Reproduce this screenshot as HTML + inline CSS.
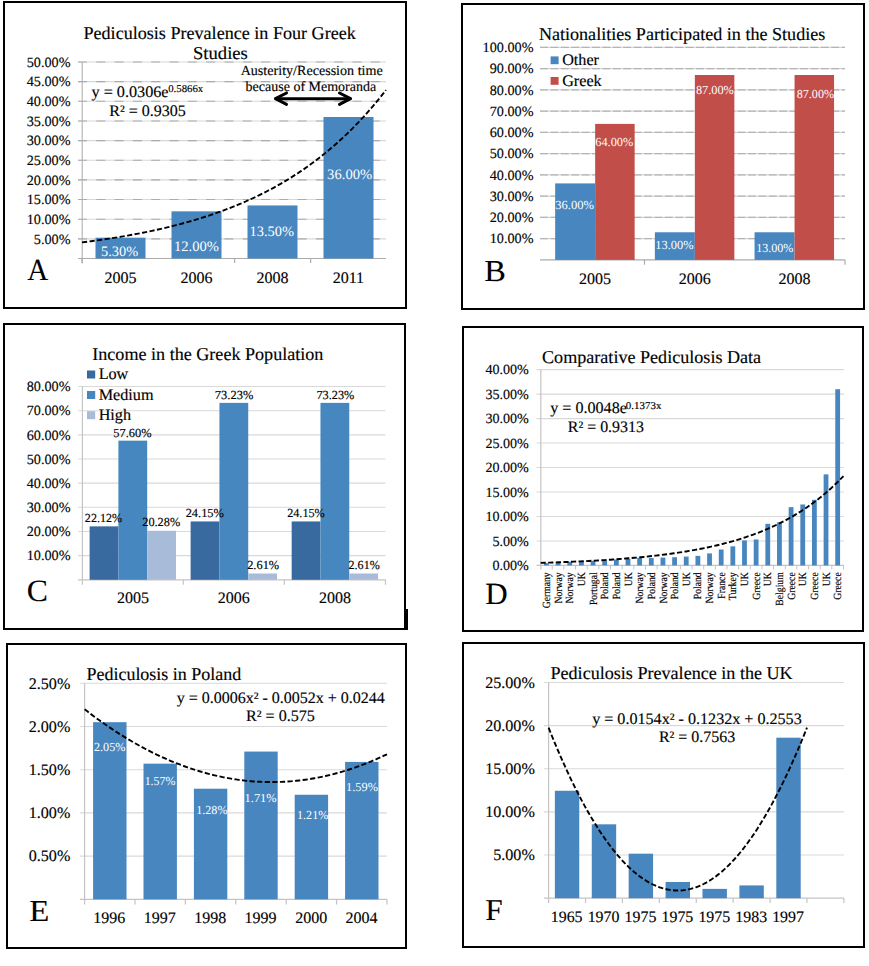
<!DOCTYPE html>
<html><head><meta charset="utf-8"><title>Pediculosis charts</title>
<style>
html,body{margin:0;padding:0;background:#fff;}
svg{display:block;}
text{font-family:"Liberation Serif", "Times New Roman", serif;text-rendering:geometricPrecision;}
</style></head>
<body>
<svg width="869" height="966" viewBox="0 0 869 966">
<rect width="869" height="966" fill="#fff"/>
<rect x="4.00" y="2.00" width="402.00" height="306.00" fill="none" stroke="#000" stroke-width="2"/>
<line x1="78.00" y1="238.85" x2="386.00" y2="238.85" stroke="#d8d8d8" stroke-width="1.1" />
<line x1="78.00" y1="238.85" x2="386.00" y2="238.85" stroke="#acacac" stroke-width="1.1" stroke-dasharray="9 9.3"/>
<text x="33.81" y="243.55" font-size="14.2" fill="#000" stroke="#000" stroke-width="0.15" >5.00%</text>
<line x1="78.00" y1="219.20" x2="386.00" y2="219.20" stroke="#d8d8d8" stroke-width="1.1" />
<line x1="78.00" y1="219.20" x2="386.00" y2="219.20" stroke="#acacac" stroke-width="1.1" stroke-dasharray="9 9.3"/>
<text x="26.71" y="223.90" font-size="14.2" fill="#000" stroke="#000" stroke-width="0.15" >10.00%</text>
<line x1="78.00" y1="199.55" x2="386.00" y2="199.55" stroke="#d8d8d8" stroke-width="1.1" />
<line x1="78.00" y1="199.55" x2="386.00" y2="199.55" stroke="#acacac" stroke-width="1.1" stroke-dasharray="9 9.3"/>
<text x="26.71" y="204.25" font-size="14.2" fill="#000" stroke="#000" stroke-width="0.15" >15.00%</text>
<line x1="78.00" y1="179.90" x2="386.00" y2="179.90" stroke="#d8d8d8" stroke-width="1.1" />
<line x1="78.00" y1="179.90" x2="386.00" y2="179.90" stroke="#acacac" stroke-width="1.1" stroke-dasharray="9 9.3"/>
<text x="26.71" y="184.60" font-size="14.2" fill="#000" stroke="#000" stroke-width="0.15" >20.00%</text>
<line x1="78.00" y1="160.25" x2="386.00" y2="160.25" stroke="#d8d8d8" stroke-width="1.1" />
<line x1="78.00" y1="160.25" x2="386.00" y2="160.25" stroke="#acacac" stroke-width="1.1" stroke-dasharray="9 9.3"/>
<text x="26.71" y="164.95" font-size="14.2" fill="#000" stroke="#000" stroke-width="0.15" >25.00%</text>
<line x1="78.00" y1="140.60" x2="386.00" y2="140.60" stroke="#d8d8d8" stroke-width="1.1" />
<line x1="78.00" y1="140.60" x2="386.00" y2="140.60" stroke="#acacac" stroke-width="1.1" stroke-dasharray="9 9.3"/>
<text x="26.71" y="145.30" font-size="14.2" fill="#000" stroke="#000" stroke-width="0.15" >30.00%</text>
<line x1="78.00" y1="120.95" x2="386.00" y2="120.95" stroke="#d8d8d8" stroke-width="1.1" />
<line x1="78.00" y1="120.95" x2="386.00" y2="120.95" stroke="#acacac" stroke-width="1.1" stroke-dasharray="9 9.3"/>
<text x="26.71" y="125.65" font-size="14.2" fill="#000" stroke="#000" stroke-width="0.15" >35.00%</text>
<line x1="78.00" y1="101.30" x2="386.00" y2="101.30" stroke="#d8d8d8" stroke-width="1.1" />
<line x1="78.00" y1="101.30" x2="386.00" y2="101.30" stroke="#acacac" stroke-width="1.1" stroke-dasharray="9 9.3"/>
<text x="26.71" y="106.00" font-size="14.2" fill="#000" stroke="#000" stroke-width="0.15" >40.00%</text>
<line x1="78.00" y1="81.65" x2="386.00" y2="81.65" stroke="#d8d8d8" stroke-width="1.1" />
<line x1="78.00" y1="81.65" x2="386.00" y2="81.65" stroke="#acacac" stroke-width="1.1" stroke-dasharray="9 9.3"/>
<text x="26.71" y="86.35" font-size="14.2" fill="#000" stroke="#000" stroke-width="0.15" >45.00%</text>
<line x1="78.00" y1="62.00" x2="386.00" y2="62.00" stroke="#d8d8d8" stroke-width="1.1" />
<line x1="78.00" y1="62.00" x2="386.00" y2="62.00" stroke="#acacac" stroke-width="1.1" stroke-dasharray="9 9.3"/>
<text x="26.71" y="66.70" font-size="14.2" fill="#000" stroke="#000" stroke-width="0.15" >50.00%</text>
<line x1="82.20" y1="62.00" x2="82.20" y2="263.50" stroke="#b0b0b0" stroke-width="1.1" />
<line x1="78.00" y1="258.50" x2="386.00" y2="258.50" stroke="#ababab" stroke-width="1.2" />
<line x1="82.00" y1="258.50" x2="82.00" y2="263.00" stroke="#ababab" stroke-width="1.2" />
<line x1="234.60" y1="258.50" x2="234.60" y2="263.00" stroke="#ababab" stroke-width="1.2" />
<line x1="310.60" y1="258.50" x2="310.60" y2="263.00" stroke="#ababab" stroke-width="1.2" />
<rect x="95.50" y="237.67" width="50.00" height="20.83" fill="#4886bf"/>
<rect x="171.50" y="211.34" width="50.00" height="47.16" fill="#4886bf"/>
<rect x="247.50" y="205.44" width="50.00" height="53.06" fill="#4886bf"/>
<rect x="323.50" y="117.02" width="50.00" height="141.48" fill="#4886bf"/>
<text x="100.96" y="256.20" font-size="14.4" fill="#fff" stroke="#fff" stroke-width="0" >5.30%</text>
<text x="173.92" y="251.00" font-size="14.4" textLength="44.98" lengthAdjust="spacingAndGlyphs" fill="#fff" stroke="#fff" stroke-width="0" >12.00%</text>
<text x="249.54" y="236.40" font-size="14.4" fill="#fff" stroke="#fff" stroke-width="0" >13.50%</text>
<text x="327.10" y="179.40" font-size="14.4" textLength="45.10" lengthAdjust="spacingAndGlyphs" fill="#fff" stroke="#fff" stroke-width="0" >36.00%</text>
<text x="104.46" y="283.00" font-size="16" fill="#000" stroke="#000" stroke-width="0.15" >2005</text>
<text x="180.39" y="283.00" font-size="16" fill="#000" stroke="#000" stroke-width="0.15" >2006</text>
<text x="256.45" y="283.00" font-size="16" fill="#000" stroke="#000" stroke-width="0.15" >2008</text>
<text x="332.63" y="283.00" font-size="16" fill="#000" stroke="#000" stroke-width="0.15" >2011</text>
<text x="27.32" y="279.90" font-size="30.5" textLength="21.00" lengthAdjust="spacingAndGlyphs" fill="#000" stroke="#000" stroke-width="0.1" >A</text>
<text x="83.48" y="39.00" font-size="18.1" fill="#000" stroke="#000" stroke-width="0.15" >Pediculosis Prevalence in Four Greek</text>
<text x="192.95" y="58.90" font-size="18.1" textLength="54.92" lengthAdjust="spacingAndGlyphs" fill="#000" stroke="#000" stroke-width="0.15" >Studies</text>
<text x="91.50" y="96.80" font-size="16" textLength="77.06" lengthAdjust="spacingAndGlyphs" fill="#000" stroke="#000" stroke-width="0.15" >y = 0.0306e</text>
<text x="168.19" y="92.20" font-size="10.5" textLength="35.04" lengthAdjust="spacingAndGlyphs" fill="#000" stroke="#000" stroke-width="0.15" >0.5866x</text>
<text x="109.24" y="115.80" font-size="16" fill="#000" stroke="#000" stroke-width="0.15" >R² = 0.9305</text>
<text x="240.66" y="74.70" font-size="14" textLength="142.03" lengthAdjust="spacingAndGlyphs" fill="#000" stroke="#000" stroke-width="0.15" >Austerity/Recession time</text>
<text x="245.60" y="90.70" font-size="14" fill="#000" stroke="#000" stroke-width="0.15" >because of Memoranda</text>
<g stroke="#000" stroke-width="3" fill="none" stroke-linecap="round" stroke-linejoin="round"><line x1="276" y1="98.7" x2="350" y2="98.7"/><polyline points="286.5,93 275.5,98.7 286.5,104.4"/><polyline points="339.5,93 350.5,98.7 339.5,104.4"/></g>
<path d="M82.00,242.38 L85.04,241.99 L88.08,241.60 L91.12,241.20 L94.16,240.79 L97.20,240.37 L100.24,239.94 L103.28,239.50 L106.32,239.05 L109.36,238.58 L112.40,238.11 L115.44,237.63 L118.48,237.13 L121.52,236.62 L124.56,236.10 L127.60,235.57 L130.64,235.03 L133.68,234.47 L136.72,233.90 L139.76,233.32 L142.80,232.72 L145.84,232.11 L148.88,231.48 L151.92,230.84 L154.96,230.18 L158.00,229.51 L161.04,228.82 L164.08,228.12 L167.12,227.40 L170.16,226.66 L173.20,225.90 L176.24,225.13 L179.28,224.33 L182.32,223.52 L185.36,222.69 L188.40,221.84 L191.44,220.97 L194.48,220.08 L197.52,219.17 L200.56,218.24 L203.60,217.28 L206.64,216.30 L209.68,215.30 L212.72,214.27 L215.76,213.22 L218.80,212.15 L221.84,211.05 L224.88,209.92 L227.92,208.77 L230.96,207.59 L234.00,206.38 L237.04,205.14 L240.08,203.88 L243.12,202.58 L246.16,201.25 L249.20,199.89 L252.24,198.50 L255.28,197.08 L258.32,195.62 L261.36,194.12 L264.40,192.60 L267.44,191.03 L270.48,189.43 L273.52,187.79 L276.56,186.11 L279.60,184.39 L282.64,182.63 L285.68,180.83 L288.72,178.99 L291.76,177.10 L294.80,175.17 L297.84,173.19 L300.88,171.16 L303.92,169.09 L306.96,166.97 L310.00,164.79 L313.04,162.57 L316.08,160.29 L319.12,157.96 L322.16,155.57 L325.20,153.13 L328.24,150.63 L331.28,148.07 L334.32,145.45 L337.36,142.76 L340.40,140.01 L343.44,137.20 L346.48,134.32 L349.52,131.37 L352.56,128.35 L355.60,125.27 L358.64,122.10 L361.68,118.86 L364.72,115.55 L367.76,112.15 L370.80,108.68 L373.84,105.12 L376.88,101.48 L379.92,97.75 L382.96,93.94 L386.00,90.03" fill="none" stroke="#000" stroke-width="1.9" stroke-dasharray="5.2 2.4"/>
<rect x="462.00" y="4.00" width="402.00" height="305.00" fill="none" stroke="#000" stroke-width="2"/>
<line x1="540.00" y1="238.65" x2="845.00" y2="238.65" stroke="#dadada" stroke-width="1.1" />
<line x1="540.00" y1="238.65" x2="845.00" y2="238.65" stroke="#b4b4b4" stroke-width="1.1" stroke-dasharray="8 2.4"/>
<text x="489.71" y="243.35" font-size="14.2" fill="#000" stroke="#000" stroke-width="0.15" >10.00%</text>
<line x1="540.00" y1="217.40" x2="845.00" y2="217.40" stroke="#dadada" stroke-width="1.1" />
<line x1="540.00" y1="217.40" x2="845.00" y2="217.40" stroke="#b4b4b4" stroke-width="1.1" stroke-dasharray="8 2.4"/>
<text x="489.71" y="222.10" font-size="14.2" fill="#000" stroke="#000" stroke-width="0.15" >20.00%</text>
<line x1="540.00" y1="196.15" x2="845.00" y2="196.15" stroke="#dadada" stroke-width="1.1" />
<line x1="540.00" y1="196.15" x2="845.00" y2="196.15" stroke="#b4b4b4" stroke-width="1.1" stroke-dasharray="8 2.4"/>
<text x="489.71" y="200.85" font-size="14.2" fill="#000" stroke="#000" stroke-width="0.15" >30.00%</text>
<line x1="540.00" y1="174.90" x2="845.00" y2="174.90" stroke="#dadada" stroke-width="1.1" />
<line x1="540.00" y1="174.90" x2="845.00" y2="174.90" stroke="#b4b4b4" stroke-width="1.1" stroke-dasharray="8 2.4"/>
<text x="489.71" y="179.60" font-size="14.2" fill="#000" stroke="#000" stroke-width="0.15" >40.00%</text>
<line x1="540.00" y1="153.65" x2="845.00" y2="153.65" stroke="#dadada" stroke-width="1.1" />
<line x1="540.00" y1="153.65" x2="845.00" y2="153.65" stroke="#b4b4b4" stroke-width="1.1" stroke-dasharray="8 2.4"/>
<text x="489.71" y="158.35" font-size="14.2" fill="#000" stroke="#000" stroke-width="0.15" >50.00%</text>
<line x1="540.00" y1="132.40" x2="845.00" y2="132.40" stroke="#dadada" stroke-width="1.1" />
<line x1="540.00" y1="132.40" x2="845.00" y2="132.40" stroke="#b4b4b4" stroke-width="1.1" stroke-dasharray="8 2.4"/>
<text x="489.71" y="137.10" font-size="14.2" fill="#000" stroke="#000" stroke-width="0.15" >60.00%</text>
<line x1="540.00" y1="111.15" x2="845.00" y2="111.15" stroke="#dadada" stroke-width="1.1" />
<line x1="540.00" y1="111.15" x2="845.00" y2="111.15" stroke="#b4b4b4" stroke-width="1.1" stroke-dasharray="8 2.4"/>
<text x="489.71" y="115.85" font-size="14.2" fill="#000" stroke="#000" stroke-width="0.15" >70.00%</text>
<line x1="540.00" y1="89.90" x2="845.00" y2="89.90" stroke="#dadada" stroke-width="1.1" />
<line x1="540.00" y1="89.90" x2="845.00" y2="89.90" stroke="#b4b4b4" stroke-width="1.1" stroke-dasharray="8 2.4"/>
<text x="489.71" y="94.60" font-size="14.2" fill="#000" stroke="#000" stroke-width="0.15" >80.00%</text>
<line x1="540.00" y1="68.65" x2="845.00" y2="68.65" stroke="#dadada" stroke-width="1.1" />
<line x1="540.00" y1="68.65" x2="845.00" y2="68.65" stroke="#b4b4b4" stroke-width="1.1" stroke-dasharray="8 2.4"/>
<text x="489.71" y="73.35" font-size="14.2" fill="#000" stroke="#000" stroke-width="0.15" >90.00%</text>
<line x1="540.00" y1="47.40" x2="845.00" y2="47.40" stroke="#dadada" stroke-width="1.1" />
<line x1="540.00" y1="47.40" x2="845.00" y2="47.40" stroke="#b4b4b4" stroke-width="1.1" stroke-dasharray="8 2.4"/>
<text x="482.61" y="52.10" font-size="14.2" fill="#000" stroke="#000" stroke-width="0.15" >100.00%</text>
<line x1="540.00" y1="259.90" x2="845.00" y2="259.90" stroke="#ababab" stroke-width="1.2" />
<line x1="644.50" y1="259.90" x2="644.50" y2="264.70" stroke="#ababab" stroke-width="1.2" />
<line x1="845.00" y1="259.90" x2="845.00" y2="264.70" stroke="#ababab" stroke-width="1.2" />
<rect x="555.15" y="183.40" width="40.00" height="76.50" fill="#4886bf"/>
<rect x="595.15" y="123.90" width="39.50" height="136.00" fill="#c24e4a"/>
<rect x="654.85" y="232.27" width="40.00" height="27.62" fill="#4886bf"/>
<rect x="694.85" y="75.02" width="39.50" height="184.88" fill="#c24e4a"/>
<rect x="754.55" y="232.27" width="40.00" height="27.62" fill="#4886bf"/>
<rect x="794.55" y="75.02" width="39.50" height="184.88" fill="#c24e4a"/>
<text x="555.30" y="209.20" font-size="12.3" textLength="38.73" lengthAdjust="spacingAndGlyphs" fill="#fff" stroke="#fff" stroke-width="0" >36.00%</text>
<text x="595.27" y="146.00" font-size="12.3" fill="#fff" stroke="#fff" stroke-width="0" >64.00%</text>
<text x="655.31" y="249.00" font-size="12.3" textLength="38.32" lengthAdjust="spacingAndGlyphs" fill="#fff" stroke="#fff" stroke-width="0" >13.00%</text>
<text x="695.93" y="94.10" font-size="12.3" fill="#fff" stroke="#fff" stroke-width="0" >87.00%</text>
<text x="756.14" y="252.10" font-size="12.3" textLength="37.28" lengthAdjust="spacingAndGlyphs" fill="#fff" stroke="#fff" stroke-width="0" >13.00%</text>
<text x="796.74" y="97.70" font-size="12.3" textLength="37.27" lengthAdjust="spacingAndGlyphs" fill="#fff" stroke="#fff" stroke-width="0" >87.00%</text>
<text x="579.11" y="283.80" font-size="16" fill="#000" stroke="#000" stroke-width="0.15" >2005</text>
<text x="678.74" y="283.80" font-size="16" fill="#000" stroke="#000" stroke-width="0.15" >2006</text>
<text x="778.50" y="283.80" font-size="16" fill="#000" stroke="#000" stroke-width="0.15" >2008</text>
<text x="484.17" y="280.80" font-size="30.5" textLength="21.62" lengthAdjust="spacingAndGlyphs" fill="#000" stroke="#000" stroke-width="0.1" >B</text>
<text x="538.88" y="40.10" font-size="18.1" fill="#000" stroke="#000" stroke-width="0.15" >Nationalities Participated in the Studies</text>
<rect x="550.60" y="56.40" width="8.00" height="7.80" fill="#4886bf"/>
<rect x="550.60" y="77.00" width="8.00" height="7.80" fill="#c24e4a"/>
<text x="562.14" y="64.90" font-size="16.2" fill="#000" stroke="#000" stroke-width="0.15" >Other</text>
<text x="562.14" y="85.50" font-size="16.2" fill="#000" stroke="#000" stroke-width="0.15" >Greek</text>
<rect x="4.00" y="324.00" width="401.00" height="305.00" fill="none" stroke="#000" stroke-width="2"/>
<rect x="406.00" y="609.00" width="2.00" height="21.00" fill="#000"/>
<line x1="78.00" y1="555.64" x2="385.50" y2="555.64" stroke="#d9d9d9" stroke-width="1.1" />
<text x="26.71" y="560.34" font-size="14.2" fill="#000" stroke="#000" stroke-width="0.15" >10.00%</text>
<line x1="78.00" y1="531.48" x2="385.50" y2="531.48" stroke="#d9d9d9" stroke-width="1.1" />
<text x="26.71" y="536.18" font-size="14.2" fill="#000" stroke="#000" stroke-width="0.15" >20.00%</text>
<line x1="78.00" y1="507.32" x2="385.50" y2="507.32" stroke="#d9d9d9" stroke-width="1.1" />
<text x="26.71" y="512.02" font-size="14.2" fill="#000" stroke="#000" stroke-width="0.15" >30.00%</text>
<line x1="78.00" y1="483.16" x2="385.50" y2="483.16" stroke="#d9d9d9" stroke-width="1.1" />
<text x="26.71" y="487.86" font-size="14.2" fill="#000" stroke="#000" stroke-width="0.15" >40.00%</text>
<line x1="78.00" y1="459.00" x2="385.50" y2="459.00" stroke="#d9d9d9" stroke-width="1.1" />
<text x="26.71" y="463.70" font-size="14.2" fill="#000" stroke="#000" stroke-width="0.15" >50.00%</text>
<line x1="78.00" y1="434.84" x2="385.50" y2="434.84" stroke="#d9d9d9" stroke-width="1.1" />
<text x="26.71" y="439.54" font-size="14.2" fill="#000" stroke="#000" stroke-width="0.15" >60.00%</text>
<line x1="78.00" y1="410.68" x2="385.50" y2="410.68" stroke="#d9d9d9" stroke-width="1.1" />
<text x="26.71" y="415.38" font-size="14.2" fill="#000" stroke="#000" stroke-width="0.15" >70.00%</text>
<line x1="78.00" y1="386.52" x2="385.50" y2="386.52" stroke="#d9d9d9" stroke-width="1.1" />
<text x="26.71" y="391.22" font-size="14.2" fill="#000" stroke="#000" stroke-width="0.15" >80.00%</text>
<line x1="82.40" y1="386.52" x2="82.40" y2="579.80" stroke="#c4c4c4" stroke-width="1.2" />
<line x1="78.00" y1="579.80" x2="385.50" y2="579.80" stroke="#c4c4c4" stroke-width="1.2" />
<line x1="82.40" y1="579.80" x2="82.40" y2="584.80" stroke="#c4c4c4" stroke-width="1.2" />
<line x1="183.30" y1="579.80" x2="183.30" y2="584.80" stroke="#c4c4c4" stroke-width="1.2" />
<line x1="284.40" y1="579.80" x2="284.40" y2="584.80" stroke="#c4c4c4" stroke-width="1.2" />
<line x1="385.50" y1="579.80" x2="385.50" y2="584.80" stroke="#c4c4c4" stroke-width="1.2" />
<rect x="89.60" y="526.36" width="28.80" height="53.44" fill="#386aa0"/>
<rect x="118.40" y="440.64" width="28.80" height="139.16" fill="#4687c0"/>
<rect x="147.20" y="530.80" width="28.80" height="49.00" fill="#a8bcda"/>
<rect x="190.63" y="521.45" width="28.80" height="58.35" fill="#386aa0"/>
<rect x="219.43" y="402.88" width="28.80" height="176.92" fill="#4687c0"/>
<rect x="248.23" y="573.49" width="28.80" height="6.31" fill="#a8bcda"/>
<rect x="291.66" y="521.45" width="28.80" height="58.35" fill="#386aa0"/>
<rect x="320.46" y="402.88" width="28.80" height="176.92" fill="#4687c0"/>
<rect x="349.26" y="573.49" width="28.80" height="6.31" fill="#a8bcda"/>
<text x="84.87" y="522.40" font-size="12.3" textLength="37.14" lengthAdjust="spacingAndGlyphs" fill="#000" stroke="#000" stroke-width="0.15" >22.12%</text>
<text x="113.38" y="436.60" font-size="12.3" textLength="38.14" lengthAdjust="spacingAndGlyphs" fill="#000" stroke="#000" stroke-width="0.15" >57.60%</text>
<text x="142.26" y="526.20" font-size="12.3" fill="#000" stroke="#000" stroke-width="0.15" >20.28%</text>
<text x="185.65" y="516.80" font-size="12.3" textLength="38.27" lengthAdjust="spacingAndGlyphs" fill="#000" stroke="#000" stroke-width="0.15" >24.15%</text>
<text x="214.88" y="398.90" font-size="12.3" textLength="38.45" lengthAdjust="spacingAndGlyphs" fill="#000" stroke="#000" stroke-width="0.15" >73.23%</text>
<text x="247.16" y="568.60" font-size="12.3" textLength="31.97" lengthAdjust="spacingAndGlyphs" fill="#000" stroke="#000" stroke-width="0.15" >2.61%</text>
<text x="287.16" y="516.80" font-size="12.3" textLength="37.55" lengthAdjust="spacingAndGlyphs" fill="#000" stroke="#000" stroke-width="0.15" >24.15%</text>
<text x="316.39" y="398.90" font-size="12.3" fill="#000" stroke="#000" stroke-width="0.15" >73.23%</text>
<text x="348.57" y="568.60" font-size="12.3" textLength="31.14" lengthAdjust="spacingAndGlyphs" fill="#000" stroke="#000" stroke-width="0.15" >2.61%</text>
<text x="116.88" y="602.80" font-size="16" fill="#000" stroke="#000" stroke-width="0.15" >2005</text>
<text x="217.83" y="602.80" font-size="16" fill="#000" stroke="#000" stroke-width="0.15" >2006</text>
<text x="318.93" y="602.80" font-size="16" fill="#000" stroke="#000" stroke-width="0.15" >2008</text>
<text x="26.80" y="601.40" font-size="31" textLength="21.15" lengthAdjust="spacingAndGlyphs" fill="#000" stroke="#000" stroke-width="0.1" >C</text>
<text x="92.25" y="360.30" font-size="18.1" fill="#000" stroke="#000" stroke-width="0.15" >Income in the Greek Population</text>
<rect x="87.00" y="370.50" width="8.20" height="8.00" fill="#386aa0"/>
<rect x="87.00" y="391.00" width="8.20" height="8.00" fill="#4687c0"/>
<rect x="87.00" y="411.20" width="8.20" height="8.00" fill="#a8bcda"/>
<text x="98.63" y="379.40" font-size="16.2" fill="#000" stroke="#000" stroke-width="0.15" >Low</text>
<text x="98.63" y="399.90" font-size="16.2" fill="#000" stroke="#000" stroke-width="0.15" >Medium</text>
<text x="98.63" y="419.90" font-size="16.2" fill="#000" stroke="#000" stroke-width="0.15" >High</text>
<rect x="463.00" y="327.00" width="400.00" height="304.00" fill="none" stroke="#000" stroke-width="2"/>
<text x="492.46" y="570.00" font-size="14.1" fill="#000" stroke="#000" stroke-width="0.15" >0.00%</text>
<line x1="536.50" y1="540.93" x2="844.00" y2="540.93" stroke="#d9d9d9" stroke-width="1.1" />
<text x="492.46" y="545.53" font-size="14.1" fill="#000" stroke="#000" stroke-width="0.15" >5.00%</text>
<line x1="536.50" y1="516.46" x2="844.00" y2="516.46" stroke="#d9d9d9" stroke-width="1.1" />
<text x="485.41" y="521.06" font-size="14.1" fill="#000" stroke="#000" stroke-width="0.15" >10.00%</text>
<line x1="536.50" y1="491.99" x2="844.00" y2="491.99" stroke="#d9d9d9" stroke-width="1.1" />
<text x="485.41" y="496.59" font-size="14.1" fill="#000" stroke="#000" stroke-width="0.15" >15.00%</text>
<line x1="536.50" y1="467.52" x2="844.00" y2="467.52" stroke="#d9d9d9" stroke-width="1.1" />
<text x="485.41" y="472.12" font-size="14.1" fill="#000" stroke="#000" stroke-width="0.15" >20.00%</text>
<line x1="536.50" y1="443.05" x2="844.00" y2="443.05" stroke="#d9d9d9" stroke-width="1.1" />
<text x="485.41" y="447.65" font-size="14.1" fill="#000" stroke="#000" stroke-width="0.15" >25.00%</text>
<line x1="536.50" y1="418.58" x2="844.00" y2="418.58" stroke="#d9d9d9" stroke-width="1.1" />
<text x="485.41" y="423.18" font-size="14.1" fill="#000" stroke="#000" stroke-width="0.15" >30.00%</text>
<line x1="536.50" y1="394.11" x2="844.00" y2="394.11" stroke="#d9d9d9" stroke-width="1.1" />
<text x="485.41" y="398.71" font-size="14.1" fill="#000" stroke="#000" stroke-width="0.15" >35.00%</text>
<line x1="536.50" y1="369.64" x2="844.00" y2="369.64" stroke="#d9d9d9" stroke-width="1.1" />
<text x="485.41" y="374.24" font-size="14.1" fill="#000" stroke="#000" stroke-width="0.15" >40.00%</text>
<line x1="540.80" y1="369.64" x2="540.80" y2="569.40" stroke="#c4c4c4" stroke-width="1.2" />
<line x1="536.50" y1="565.40" x2="844.00" y2="565.40" stroke="#c4c4c4" stroke-width="1.2" />
<rect x="544.03" y="563.20" width="4.80" height="2.20" fill="#4886bf"/>
<line x1="552.25" y1="565.40" x2="552.25" y2="569.40" stroke="#c4c4c4" stroke-width="1" />
<text transform="translate(550.03,572.30) rotate(-90)" text-anchor="end" font-size="11" textLength="36.02" lengthAdjust="spacingAndGlyphs" stroke="#000" stroke-width="0.15">Germany</text>
<rect x="555.68" y="562.71" width="4.80" height="2.69" fill="#4886bf"/>
<line x1="563.90" y1="565.40" x2="563.90" y2="569.40" stroke="#c4c4c4" stroke-width="1" />
<text transform="translate(561.68,572.30) rotate(-90)" text-anchor="end" font-size="11" textLength="31.18" lengthAdjust="spacingAndGlyphs" stroke="#000" stroke-width="0.15">Norway</text>
<rect x="567.33" y="561.73" width="4.80" height="3.67" fill="#4886bf"/>
<line x1="575.55" y1="565.40" x2="575.55" y2="569.40" stroke="#c4c4c4" stroke-width="1" />
<text transform="translate(573.33,572.30) rotate(-90)" text-anchor="end" font-size="11" textLength="31.18" lengthAdjust="spacingAndGlyphs" stroke="#000" stroke-width="0.15">Norway</text>
<rect x="578.98" y="561.00" width="4.80" height="4.40" fill="#4886bf"/>
<line x1="587.20" y1="565.40" x2="587.20" y2="569.40" stroke="#c4c4c4" stroke-width="1" />
<text transform="translate(584.98,572.30) rotate(-90)" text-anchor="end" font-size="11" textLength="13.98" lengthAdjust="spacingAndGlyphs" stroke="#000" stroke-width="0.15">UK</text>
<rect x="590.62" y="560.75" width="4.80" height="4.65" fill="#4886bf"/>
<line x1="598.85" y1="565.40" x2="598.85" y2="569.40" stroke="#c4c4c4" stroke-width="1" />
<text transform="translate(596.62,572.30) rotate(-90)" text-anchor="end" font-size="11" textLength="32.80" lengthAdjust="spacingAndGlyphs" stroke="#000" stroke-width="0.15">Portugal</text>
<rect x="602.28" y="560.26" width="4.80" height="5.14" fill="#4886bf"/>
<line x1="610.50" y1="565.40" x2="610.50" y2="569.40" stroke="#c4c4c4" stroke-width="1" />
<text transform="translate(608.28,572.30) rotate(-90)" text-anchor="end" font-size="11" textLength="26.89" lengthAdjust="spacingAndGlyphs" stroke="#000" stroke-width="0.15">Poland</text>
<rect x="613.93" y="559.53" width="4.80" height="5.87" fill="#4886bf"/>
<line x1="622.15" y1="565.40" x2="622.15" y2="569.40" stroke="#c4c4c4" stroke-width="1" />
<text transform="translate(619.93,572.30) rotate(-90)" text-anchor="end" font-size="11" textLength="26.89" lengthAdjust="spacingAndGlyphs" stroke="#000" stroke-width="0.15">Poland</text>
<rect x="625.58" y="558.79" width="4.80" height="6.61" fill="#4886bf"/>
<line x1="633.80" y1="565.40" x2="633.80" y2="569.40" stroke="#c4c4c4" stroke-width="1" />
<text transform="translate(631.58,572.30) rotate(-90)" text-anchor="end" font-size="11" textLength="13.98" lengthAdjust="spacingAndGlyphs" stroke="#000" stroke-width="0.15">UK</text>
<rect x="637.23" y="557.81" width="4.80" height="7.59" fill="#4886bf"/>
<line x1="645.45" y1="565.40" x2="645.45" y2="569.40" stroke="#c4c4c4" stroke-width="1" />
<text transform="translate(643.23,572.30) rotate(-90)" text-anchor="end" font-size="11" textLength="31.18" lengthAdjust="spacingAndGlyphs" stroke="#000" stroke-width="0.15">Norway</text>
<rect x="648.88" y="558.06" width="4.80" height="7.34" fill="#4886bf"/>
<line x1="657.10" y1="565.40" x2="657.10" y2="569.40" stroke="#c4c4c4" stroke-width="1" />
<text transform="translate(654.88,572.30) rotate(-90)" text-anchor="end" font-size="11" textLength="26.89" lengthAdjust="spacingAndGlyphs" stroke="#000" stroke-width="0.15">Poland</text>
<rect x="660.53" y="557.57" width="4.80" height="7.83" fill="#4886bf"/>
<line x1="668.75" y1="565.40" x2="668.75" y2="569.40" stroke="#c4c4c4" stroke-width="1" />
<text transform="translate(666.53,572.30) rotate(-90)" text-anchor="end" font-size="11" textLength="31.18" lengthAdjust="spacingAndGlyphs" stroke="#000" stroke-width="0.15">Norway</text>
<rect x="672.18" y="557.23" width="4.80" height="8.17" fill="#4886bf"/>
<line x1="680.40" y1="565.40" x2="680.40" y2="569.40" stroke="#c4c4c4" stroke-width="1" />
<text transform="translate(678.18,572.30) rotate(-90)" text-anchor="end" font-size="11" textLength="26.89" lengthAdjust="spacingAndGlyphs" stroke="#000" stroke-width="0.15">Poland</text>
<rect x="683.83" y="556.59" width="4.80" height="8.81" fill="#4886bf"/>
<line x1="692.05" y1="565.40" x2="692.05" y2="569.40" stroke="#c4c4c4" stroke-width="1" />
<text transform="translate(689.83,572.30) rotate(-90)" text-anchor="end" font-size="11" textLength="13.98" lengthAdjust="spacingAndGlyphs" stroke="#000" stroke-width="0.15">UK</text>
<rect x="695.48" y="555.86" width="4.80" height="9.54" fill="#4886bf"/>
<line x1="703.70" y1="565.40" x2="703.70" y2="569.40" stroke="#c4c4c4" stroke-width="1" />
<text transform="translate(701.48,572.30) rotate(-90)" text-anchor="end" font-size="11" textLength="26.89" lengthAdjust="spacingAndGlyphs" stroke="#000" stroke-width="0.15">Poland</text>
<rect x="707.13" y="553.41" width="4.80" height="11.99" fill="#4886bf"/>
<line x1="715.35" y1="565.40" x2="715.35" y2="569.40" stroke="#c4c4c4" stroke-width="1" />
<text transform="translate(713.13,572.30) rotate(-90)" text-anchor="end" font-size="11" textLength="31.18" lengthAdjust="spacingAndGlyphs" stroke="#000" stroke-width="0.15">Norway</text>
<rect x="718.78" y="549.49" width="4.80" height="15.91" fill="#4886bf"/>
<line x1="727.00" y1="565.40" x2="727.00" y2="569.40" stroke="#c4c4c4" stroke-width="1" />
<text transform="translate(724.78,572.30) rotate(-90)" text-anchor="end" font-size="11" textLength="26.34" lengthAdjust="spacingAndGlyphs" stroke="#000" stroke-width="0.15">France</text>
<rect x="730.43" y="546.31" width="4.80" height="19.09" fill="#4886bf"/>
<line x1="738.65" y1="565.40" x2="738.65" y2="569.40" stroke="#c4c4c4" stroke-width="1" />
<text transform="translate(736.43,572.30) rotate(-90)" text-anchor="end" font-size="11" textLength="27.95" lengthAdjust="spacingAndGlyphs" stroke="#000" stroke-width="0.15">Turkey</text>
<rect x="742.08" y="540.44" width="4.80" height="24.96" fill="#4886bf"/>
<line x1="750.30" y1="565.40" x2="750.30" y2="569.40" stroke="#c4c4c4" stroke-width="1" />
<text transform="translate(748.08,572.30) rotate(-90)" text-anchor="end" font-size="11" textLength="13.98" lengthAdjust="spacingAndGlyphs" stroke="#000" stroke-width="0.15">UK</text>
<rect x="753.73" y="539.46" width="4.80" height="25.94" fill="#4886bf"/>
<line x1="761.95" y1="565.40" x2="761.95" y2="569.40" stroke="#c4c4c4" stroke-width="1" />
<text transform="translate(759.73,572.30) rotate(-90)" text-anchor="end" font-size="11" textLength="27.40" lengthAdjust="spacingAndGlyphs" stroke="#000" stroke-width="0.15">Greece</text>
<rect x="765.38" y="523.80" width="4.80" height="41.60" fill="#4886bf"/>
<line x1="773.60" y1="565.40" x2="773.60" y2="569.40" stroke="#c4c4c4" stroke-width="1" />
<text transform="translate(771.38,572.30) rotate(-90)" text-anchor="end" font-size="11" textLength="13.98" lengthAdjust="spacingAndGlyphs" stroke="#000" stroke-width="0.15">UK</text>
<rect x="777.03" y="522.33" width="4.80" height="43.07" fill="#4886bf"/>
<line x1="785.25" y1="565.40" x2="785.25" y2="569.40" stroke="#c4c4c4" stroke-width="1" />
<text transform="translate(783.03,572.30) rotate(-90)" text-anchor="end" font-size="11" textLength="33.34" lengthAdjust="spacingAndGlyphs" stroke="#000" stroke-width="0.15">Belgium</text>
<rect x="788.68" y="507.16" width="4.80" height="58.24" fill="#4886bf"/>
<line x1="796.90" y1="565.40" x2="796.90" y2="569.40" stroke="#c4c4c4" stroke-width="1" />
<text transform="translate(794.68,572.30) rotate(-90)" text-anchor="end" font-size="11" textLength="27.40" lengthAdjust="spacingAndGlyphs" stroke="#000" stroke-width="0.15">Greece</text>
<rect x="800.33" y="504.47" width="4.80" height="60.93" fill="#4886bf"/>
<line x1="808.55" y1="565.40" x2="808.55" y2="569.40" stroke="#c4c4c4" stroke-width="1" />
<text transform="translate(806.33,572.30) rotate(-90)" text-anchor="end" font-size="11" textLength="13.98" lengthAdjust="spacingAndGlyphs" stroke="#000" stroke-width="0.15">UK</text>
<rect x="811.98" y="499.82" width="4.80" height="65.58" fill="#4886bf"/>
<line x1="820.20" y1="565.40" x2="820.20" y2="569.40" stroke="#c4c4c4" stroke-width="1" />
<text transform="translate(817.98,572.30) rotate(-90)" text-anchor="end" font-size="11" textLength="27.40" lengthAdjust="spacingAndGlyphs" stroke="#000" stroke-width="0.15">Greece</text>
<rect x="823.63" y="474.37" width="4.80" height="91.03" fill="#4886bf"/>
<line x1="831.85" y1="565.40" x2="831.85" y2="569.40" stroke="#c4c4c4" stroke-width="1" />
<text transform="translate(829.63,572.30) rotate(-90)" text-anchor="end" font-size="11" textLength="13.98" lengthAdjust="spacingAndGlyphs" stroke="#000" stroke-width="0.15">UK</text>
<rect x="835.27" y="389.22" width="4.80" height="176.18" fill="#4886bf"/>
<line x1="843.50" y1="565.40" x2="843.50" y2="569.40" stroke="#c4c4c4" stroke-width="1" />
<text transform="translate(841.27,572.30) rotate(-90)" text-anchor="end" font-size="11" textLength="27.40" lengthAdjust="spacingAndGlyphs" stroke="#000" stroke-width="0.15">Greece</text>
<text x="485.30" y="603.80" font-size="30.8" textLength="22.44" lengthAdjust="spacingAndGlyphs" fill="#000" stroke="#000" stroke-width="0.1" >D</text>
<text x="542.06" y="363.00" font-size="18.1" fill="#000" stroke="#000" stroke-width="0.15" >Comparative Pediculosis Data</text>
<text x="550.30" y="413.00" font-size="16" textLength="76.55" lengthAdjust="spacingAndGlyphs" fill="#000" stroke="#000" stroke-width="0.15" >y = 0.0048e</text>
<text x="625.88" y="408.60" font-size="10.5" textLength="35.55" lengthAdjust="spacingAndGlyphs" fill="#000" stroke="#000" stroke-width="0.15" >0.1373x</text>
<text x="567.84" y="431.50" font-size="16" textLength="76.08" lengthAdjust="spacingAndGlyphs" fill="#000" stroke="#000" stroke-width="0.15" >R² = 0.9313</text>
<path d="M540.60,562.88 L543.63,562.79 L546.66,562.70 L549.69,562.60 L552.72,562.50 L555.75,562.39 L558.77,562.28 L561.80,562.17 L564.83,562.05 L567.86,561.93 L570.89,561.80 L573.92,561.67 L576.95,561.54 L579.98,561.40 L583.01,561.25 L586.04,561.10 L589.06,560.95 L592.09,560.78 L595.12,560.62 L598.15,560.44 L601.18,560.26 L604.21,560.08 L607.24,559.88 L610.27,559.68 L613.30,559.47 L616.33,559.26 L619.35,559.03 L622.38,558.80 L625.41,558.56 L628.44,558.32 L631.47,558.06 L634.50,557.79 L637.53,557.51 L640.56,557.23 L643.59,556.93 L646.62,556.62 L649.64,556.30 L652.67,555.97 L655.70,555.63 L658.73,555.28 L661.76,554.91 L664.79,554.53 L667.82,554.13 L670.85,553.72 L673.88,553.30 L676.90,552.86 L679.93,552.40 L682.96,551.93 L685.99,551.44 L689.02,550.93 L692.05,550.41 L695.08,549.86 L698.11,549.30 L701.14,548.71 L704.17,548.11 L707.20,547.48 L710.22,546.83 L713.25,546.15 L716.28,545.45 L719.31,544.73 L722.34,543.97 L725.37,543.20 L728.40,542.39 L731.43,541.55 L734.46,540.69 L737.49,539.79 L740.51,538.86 L743.54,537.89 L746.57,536.89 L749.60,535.86 L752.63,534.78 L755.66,533.67 L758.69,532.52 L761.72,531.32 L764.75,530.08 L767.78,528.80 L770.80,527.47 L773.83,526.09 L776.86,524.66 L779.89,523.18 L782.92,521.65 L785.95,520.06 L788.98,518.41 L792.01,516.70 L795.04,514.93 L798.07,513.10 L801.09,511.20 L804.12,509.23 L807.15,507.19 L810.18,505.07 L813.21,502.88 L816.24,500.61 L819.27,498.25 L822.30,495.81 L825.33,493.28 L828.36,490.66 L831.38,487.94 L834.41,485.13 L837.44,482.21 L840.47,479.19 L843.50,476.06" fill="none" stroke="#000" stroke-width="1.9" stroke-dasharray="5.2 2.4"/>
<rect x="7.00" y="644.00" width="399.00" height="304.00" fill="none" stroke="#000" stroke-width="2"/>
<line x1="80.00" y1="856.10" x2="387.00" y2="856.10" stroke="#d9d9d9" stroke-width="1.1" />
<text x="28.76" y="861.40" font-size="16.1" fill="#000" stroke="#000" stroke-width="0.15" >0.50%</text>
<line x1="80.00" y1="812.90" x2="387.00" y2="812.90" stroke="#d9d9d9" stroke-width="1.1" />
<text x="28.76" y="818.20" font-size="16.1" fill="#000" stroke="#000" stroke-width="0.15" >1.00%</text>
<line x1="80.00" y1="769.70" x2="387.00" y2="769.70" stroke="#d9d9d9" stroke-width="1.1" />
<text x="28.76" y="775.00" font-size="16.1" fill="#000" stroke="#000" stroke-width="0.15" >1.50%</text>
<line x1="80.00" y1="726.50" x2="387.00" y2="726.50" stroke="#d9d9d9" stroke-width="1.1" />
<text x="28.76" y="731.80" font-size="16.1" fill="#000" stroke="#000" stroke-width="0.15" >2.00%</text>
<line x1="80.00" y1="683.30" x2="387.00" y2="683.30" stroke="#d9d9d9" stroke-width="1.1" />
<text x="28.76" y="688.60" font-size="16.1" fill="#000" stroke="#000" stroke-width="0.15" >2.50%</text>
<line x1="84.60" y1="683.30" x2="84.60" y2="899.30" stroke="#c4c4c4" stroke-width="1.2" />
<line x1="80.00" y1="899.30" x2="387.00" y2="899.30" stroke="#c4c4c4" stroke-width="1.2" />
<line x1="84.60" y1="899.30" x2="84.60" y2="904.50" stroke="#c4c4c4" stroke-width="1.2" />
<line x1="135.00" y1="899.30" x2="135.00" y2="904.50" stroke="#c4c4c4" stroke-width="1.2" />
<line x1="185.40" y1="899.30" x2="185.40" y2="904.50" stroke="#c4c4c4" stroke-width="1.2" />
<line x1="235.80" y1="899.30" x2="235.80" y2="904.50" stroke="#c4c4c4" stroke-width="1.2" />
<line x1="286.20" y1="899.30" x2="286.20" y2="904.50" stroke="#c4c4c4" stroke-width="1.2" />
<line x1="336.60" y1="899.30" x2="336.60" y2="904.50" stroke="#c4c4c4" stroke-width="1.2" />
<line x1="387.00" y1="899.30" x2="387.00" y2="904.50" stroke="#c4c4c4" stroke-width="1.2" />
<rect x="93.10" y="722.18" width="33.40" height="177.12" fill="#4886bf"/>
<rect x="143.50" y="763.65" width="33.40" height="135.65" fill="#4886bf"/>
<rect x="193.90" y="788.71" width="33.40" height="110.59" fill="#4886bf"/>
<rect x="244.30" y="751.56" width="33.40" height="147.74" fill="#4886bf"/>
<rect x="294.70" y="794.76" width="33.40" height="104.54" fill="#4886bf"/>
<rect x="345.10" y="761.92" width="33.40" height="137.38" fill="#4886bf"/>
<text x="93.96" y="751.10" font-size="12.3" textLength="31.45" lengthAdjust="spacingAndGlyphs" fill="#fff" stroke="#fff" stroke-width="0" >2.05%</text>
<text x="144.65" y="785.10" font-size="12.3" textLength="30.75" lengthAdjust="spacingAndGlyphs" fill="#fff" stroke="#fff" stroke-width="0" >1.57%</text>
<text x="196.24" y="813.60" font-size="12.3" textLength="31.28" lengthAdjust="spacingAndGlyphs" fill="#fff" stroke="#fff" stroke-width="0" >1.28%</text>
<text x="244.61" y="801.90" font-size="12.3" textLength="32.01" lengthAdjust="spacingAndGlyphs" fill="#fff" stroke="#fff" stroke-width="0" >1.71%</text>
<text x="297.04" y="819.30" font-size="12.3" textLength="31.28" lengthAdjust="spacingAndGlyphs" fill="#fff" stroke="#fff" stroke-width="0" >1.21%</text>
<text x="346.12" y="791.20" font-size="12.3" fill="#fff" stroke="#fff" stroke-width="0" >1.59%</text>
<text x="93.34" y="922.80" font-size="16" fill="#000" stroke="#000" stroke-width="0.15" >1996</text>
<text x="143.73" y="922.80" font-size="16" fill="#000" stroke="#000" stroke-width="0.15" >1997</text>
<text x="194.20" y="922.80" font-size="16" fill="#000" stroke="#000" stroke-width="0.15" >1998</text>
<text x="244.62" y="922.80" font-size="16" fill="#000" stroke="#000" stroke-width="0.15" >1999</text>
<text x="295.35" y="922.80" font-size="16" fill="#000" stroke="#000" stroke-width="0.15" >2000</text>
<text x="345.57" y="922.80" font-size="16" fill="#000" stroke="#000" stroke-width="0.15" >2004</text>
<text x="29.15" y="920.60" font-size="30.5" textLength="20.08" lengthAdjust="spacingAndGlyphs" fill="#000" stroke="#000" stroke-width="0.1" >E</text>
<text x="86.48" y="679.70" font-size="18.1" textLength="154.74" lengthAdjust="spacingAndGlyphs" fill="#000" stroke="#000" stroke-width="0.15" >Pediculosis in Poland</text>
<text x="176.68" y="702.90" font-size="16" fill="#000" stroke="#000" stroke-width="0.15" >y = 0.0006x² - 0.0052x + 0.0244</text>
<text x="246.04" y="720.80" font-size="16" textLength="68.89" lengthAdjust="spacingAndGlyphs" fill="#000" stroke="#000" stroke-width="0.15" >R² = 0.575</text>
<path d="M84.60,709.25 L87.62,711.58 L90.65,713.88 L93.67,716.14 L96.70,718.37 L99.72,720.55 L102.74,722.70 L105.77,724.81 L108.79,726.88 L111.82,728.91 L114.84,730.90 L117.86,732.86 L120.89,734.78 L123.91,736.66 L126.94,738.50 L129.96,740.30 L132.98,742.07 L136.01,743.79 L139.03,745.48 L142.06,747.13 L145.08,748.75 L148.10,750.32 L151.13,751.86 L154.15,753.36 L157.18,754.82 L160.20,756.24 L163.22,757.63 L166.25,758.97 L169.27,760.28 L172.30,761.55 L175.32,762.78 L178.34,763.97 L181.37,765.13 L184.39,766.25 L187.42,767.33 L190.44,768.37 L193.46,769.37 L196.49,770.34 L199.51,771.26 L202.54,772.15 L205.56,773.00 L208.58,773.82 L211.61,774.59 L214.63,775.33 L217.66,776.02 L220.68,776.68 L223.70,777.31 L226.73,777.89 L229.75,778.44 L232.78,778.94 L235.80,779.41 L238.82,779.84 L241.85,780.24 L244.87,780.59 L247.90,780.91 L250.92,781.19 L253.94,781.43 L256.97,781.63 L259.99,781.80 L263.02,781.92 L266.04,782.01 L269.06,782.06 L272.09,782.07 L275.11,782.05 L278.14,781.98 L281.16,781.88 L284.18,781.74 L287.21,781.56 L290.23,781.35 L293.26,781.09 L296.28,780.80 L299.30,780.47 L302.33,780.10 L305.35,779.69 L308.38,779.25 L311.40,778.76 L314.42,778.24 L317.45,777.68 L320.47,777.08 L323.50,776.45 L326.52,775.77 L329.54,775.06 L332.57,774.31 L335.59,773.52 L338.62,772.70 L341.64,771.83 L344.66,770.93 L347.69,769.99 L350.71,769.01 L353.74,767.99 L356.76,766.94 L359.78,765.84 L362.81,764.71 L365.83,763.54 L368.86,762.33 L371.88,761.09 L374.90,759.80 L377.93,758.48 L380.95,757.12 L383.98,755.72 L387.00,754.29" fill="none" stroke="#000" stroke-width="1.9" stroke-dasharray="5.2 2.4"/>
<rect x="463.00" y="643.00" width="401.00" height="304.00" fill="none" stroke="#000" stroke-width="2"/>
<line x1="543.90" y1="855.05" x2="843.90" y2="855.05" stroke="#d9d9d9" stroke-width="1.1" />
<text x="493.26" y="860.35" font-size="16.1" fill="#000" stroke="#000" stroke-width="0.15" >5.00%</text>
<line x1="543.90" y1="811.90" x2="843.90" y2="811.90" stroke="#d9d9d9" stroke-width="1.1" />
<text x="485.21" y="817.20" font-size="16.1" fill="#000" stroke="#000" stroke-width="0.15" >10.00%</text>
<line x1="543.90" y1="768.75" x2="843.90" y2="768.75" stroke="#d9d9d9" stroke-width="1.1" />
<text x="485.21" y="774.05" font-size="16.1" fill="#000" stroke="#000" stroke-width="0.15" >15.00%</text>
<line x1="543.90" y1="725.60" x2="843.90" y2="725.60" stroke="#d9d9d9" stroke-width="1.1" />
<text x="485.21" y="730.90" font-size="16.1" fill="#000" stroke="#000" stroke-width="0.15" >20.00%</text>
<line x1="543.90" y1="682.45" x2="843.90" y2="682.45" stroke="#d9d9d9" stroke-width="1.1" />
<text x="485.21" y="687.75" font-size="16.1" fill="#000" stroke="#000" stroke-width="0.15" >25.00%</text>
<line x1="548.60" y1="682.45" x2="548.60" y2="898.20" stroke="#c4c4c4" stroke-width="1.2" />
<line x1="543.90" y1="898.20" x2="843.90" y2="898.20" stroke="#c4c4c4" stroke-width="1.2" />
<line x1="548.60" y1="898.20" x2="548.60" y2="903.00" stroke="#c4c4c4" stroke-width="1.2" />
<line x1="585.51" y1="898.20" x2="585.51" y2="903.00" stroke="#c4c4c4" stroke-width="1.2" />
<line x1="622.42" y1="898.20" x2="622.42" y2="903.00" stroke="#c4c4c4" stroke-width="1.2" />
<line x1="659.33" y1="898.20" x2="659.33" y2="903.00" stroke="#c4c4c4" stroke-width="1.2" />
<line x1="696.24" y1="898.20" x2="696.24" y2="903.00" stroke="#c4c4c4" stroke-width="1.2" />
<line x1="733.15" y1="898.20" x2="733.15" y2="903.00" stroke="#c4c4c4" stroke-width="1.2" />
<line x1="770.06" y1="898.20" x2="770.06" y2="903.00" stroke="#c4c4c4" stroke-width="1.2" />
<line x1="806.97" y1="898.20" x2="806.97" y2="903.00" stroke="#c4c4c4" stroke-width="1.2" />
<line x1="843.88" y1="898.20" x2="843.88" y2="903.00" stroke="#c4c4c4" stroke-width="1.2" />
<rect x="554.86" y="790.76" width="24.40" height="107.44" fill="#4886bf"/>
<rect x="591.76" y="824.33" width="24.40" height="73.87" fill="#4886bf"/>
<rect x="628.67" y="853.67" width="24.40" height="44.53" fill="#4886bf"/>
<rect x="665.59" y="881.98" width="24.40" height="16.22" fill="#4886bf"/>
<rect x="702.49" y="888.88" width="24.40" height="9.32" fill="#4886bf"/>
<rect x="739.40" y="885.43" width="24.40" height="12.77" fill="#4886bf"/>
<rect x="776.31" y="737.68" width="24.40" height="160.52" fill="#4886bf"/>
<text x="550.77" y="922.20" font-size="15.9" fill="#000" stroke="#000" stroke-width="0.15" >1965</text>
<text x="587.67" y="922.20" font-size="15.9" fill="#000" stroke="#000" stroke-width="0.15" >1970</text>
<text x="624.59" y="922.20" font-size="15.9" fill="#000" stroke="#000" stroke-width="0.15" >1975</text>
<text x="661.50" y="922.20" font-size="15.9" fill="#000" stroke="#000" stroke-width="0.15" >1975</text>
<text x="698.41" y="922.20" font-size="15.9" fill="#000" stroke="#000" stroke-width="0.15" >1975</text>
<text x="735.32" y="922.20" font-size="15.9" fill="#000" stroke="#000" stroke-width="0.15" >1983</text>
<text x="772.15" y="922.20" font-size="15.9" fill="#000" stroke="#000" stroke-width="0.15" >1997</text>
<text x="485.30" y="919.50" font-size="30.3" textLength="17.44" lengthAdjust="spacingAndGlyphs" fill="#000" stroke="#000" stroke-width="0.1" >F</text>
<text x="550.48" y="678.90" font-size="18.1" fill="#000" stroke="#000" stroke-width="0.15" >Pediculosis Prevalence in the UK</text>
<text x="592.20" y="724.20" font-size="16" textLength="209.53" lengthAdjust="spacingAndGlyphs" fill="#000" stroke="#000" stroke-width="0.15" >y = 0.0154x² - 0.1232x + 0.2553</text>
<text x="658.94" y="741.90" font-size="16" textLength="76.18" lengthAdjust="spacingAndGlyphs" fill="#000" stroke="#000" stroke-width="0.15" >R² = 0.7563</text>
<path d="M548.60,727.71 L551.18,734.16 L553.77,740.48 L556.35,746.66 L558.93,752.72 L561.52,758.65 L564.10,764.44 L566.69,770.11 L569.27,775.64 L571.85,781.05 L574.44,786.32 L577.02,791.47 L579.60,796.48 L582.19,801.37 L584.77,806.12 L587.36,810.74 L589.94,815.24 L592.52,819.60 L595.11,823.83 L597.69,827.94 L600.27,831.91 L602.86,835.75 L605.44,839.46 L608.03,843.05 L610.61,846.50 L613.19,849.82 L615.78,853.01 L618.36,856.07 L620.94,859.00 L623.53,861.80 L626.11,864.47 L628.69,867.01 L631.28,869.42 L633.86,871.70 L636.45,873.85 L639.03,875.87 L641.61,877.76 L644.20,879.51 L646.78,881.14 L649.36,882.64 L651.95,884.01 L654.53,885.24 L657.12,886.35 L659.70,887.33 L662.28,888.17 L664.87,888.89 L667.45,889.48 L670.03,889.93 L672.62,890.26 L675.20,890.45 L677.79,890.52 L680.37,890.45 L682.95,890.26 L685.54,889.93 L688.12,889.48 L690.70,888.89 L693.29,888.17 L695.87,887.33 L698.45,886.35 L701.04,885.24 L703.62,884.01 L706.21,882.64 L708.79,881.14 L711.37,879.51 L713.96,877.76 L716.54,875.87 L719.12,873.85 L721.71,871.70 L724.29,869.42 L726.88,867.01 L729.46,864.47 L732.04,861.80 L734.63,859.00 L737.21,856.07 L739.79,853.01 L742.38,849.82 L744.96,846.50 L747.54,843.05 L750.13,839.46 L752.71,835.75 L755.30,831.91 L757.88,827.94 L760.46,823.83 L763.05,819.60 L765.63,815.24 L768.21,810.74 L770.80,806.12 L773.38,801.37 L775.97,796.48 L778.55,791.47 L781.13,786.32 L783.72,781.05 L786.30,775.64 L788.88,770.11 L791.47,764.44 L794.05,758.65 L796.64,752.72 L799.22,746.66 L801.80,740.48 L804.39,734.16 L806.97,727.71" fill="none" stroke="#000" stroke-width="1.9" stroke-dasharray="5.2 2.4"/>
</svg>
</body></html>
